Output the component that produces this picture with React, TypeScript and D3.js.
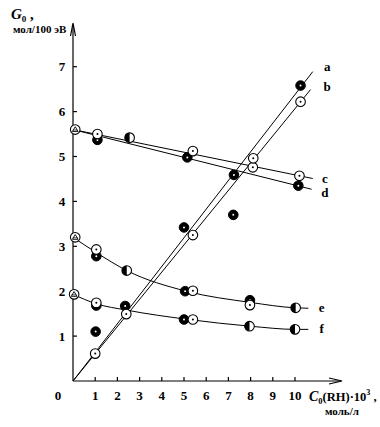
import React from "react";
import * as d3 from "d3";

const xTicks = [1, 2, 3, 4, 5, 6, 7, 8, 9, 10];
const yTicks = [1, 2, 3, 4, 5, 6, 7];

// straight lines a–d (endpoints)
const lineA: [number, number][] = [[0, 0], [10.8, 6.89]];
const lineB: [number, number][] = [[0, 0], [10.7, 6.49]];
const lineC: [number, number][] = [[0, 5.6], [10.8, 4.51]];
const lineD: [number, number][] = [[0, 5.6], [10.75, 4.27]];
// curves e, f
const curveE: [number, number][] = [[0, 3.2], [1.05, 2.86], [2.42, 2.46], [5.1, 2.0], [8, 1.75], [10, 1.63], [10.6, 1.62]];
const curveF: [number, number][] = [[0, 1.93], [1.05, 1.72], [2.4, 1.58], [5.2, 1.37], [8, 1.22], [10, 1.15], [10.6, 1.15]];

const lineLabels = ["a", "b", "c", "d", "e", "f"];
const labelPos: [number, number][] = [[11.45, 6.99], [11.45, 6.54], [11.35, 4.5], [11.35, 4.18], [11.2, 1.63], [11.2, 1.16]];

const trianglePts: [number, number][] = [[0.1, 5.6], [0.1, 3.2], [0.05, 1.93]];
const filledPts: [number, number][] = [
  [1.1, 5.37], [5.15, 4.98], [10.15, 4.35], [7.25, 4.59], [10.25, 6.58], [5.0, 3.42],
  [7.22, 3.7], [1.02, 1.1], [2.35, 1.67], [1.05, 2.78], [5.05, 2.0], [7.97, 1.8],
  [5.0, 1.37], [1.05, 1.68],
];
const openPts: [number, number][] = [
  [1.1, 5.5], [5.4, 5.12], [10.2, 4.57], [8.1, 4.76], [8.12, 4.96], [10.25, 6.22],
  [5.4, 3.25], [2.4, 1.49], [1.0, 0.61], [1.05, 2.93], [5.4, 2.01], [7.97, 1.69],
  [1.05, 1.74], [5.4, 1.37],
];
const halfPts: [number, number][] = [[2.55, 5.42], [2.42, 2.46], [10.03, 1.63], [7.95, 1.22], [10.0, 1.15]];

const W = 380, H = 427;
const x = d3.scaleLinear().domain([0, 10]).range([73, 295]);
const y = d3.scaleLinear().domain([0, 7]).range([381, 66.7]);
const R = 4.8;

const font = "'Liberation Serif', 'DejaVu Serif', serif";

export default function App() {
  const straight = d3.line<[number, number]>().x(d => x(d[0])).y(d => y(d[1]));
  const smooth = d3.line<[number, number]>().x(d => x(d[0])).y(d => y(d[1])).curve(d3.curveMonotoneX);
  const x0 = x(0), y0 = y(0);
  const halfPath = (cx: number, cy: number) =>
    `M${cx},${cy - R} A${R},${R} 0 0 0 ${cx},${cy + R} Z`;
  return (
    <svg width={W} height={H} style={{ position: "absolute", left: 0, top: 0, background: "#fff" }}
      fontFamily={font} fontWeight="bold">
      <rect width={W} height={H} fill="#fff" />
      {/* axes */}
      <line x1={x0} y1={y0} x2={x0} y2={25} stroke="#000" strokeWidth={1.2} />
      <path d={`M${x0 - 2.5},${36} L${x0},${23} L${x0 + 2.5},${36}`} fill="none" stroke="#000" strokeWidth={1.2} />
      <line x1={x0} y1={y0} x2={341} y2={y0} stroke="#000" strokeWidth={1.2} />
      <path d={`M${329},${y0 - 3} L${342},${y0} L${329},${y0 + 3}`} fill="none" stroke="#000" strokeWidth={1.1} />
      {yTicks.map(t => (
        <g key={"y" + t}>
          <line x1={x0} x2={x0 + 4} y1={y(t)} y2={y(t)} stroke="#000" strokeWidth={1.2} />
          <text x={62} y={y(t) + 4.5} fontSize={13} textAnchor="middle">{t}</text>
        </g>
      ))}
      {xTicks.map(t => (
        <g key={"x" + t}>
          <line x1={x(t)} x2={x(t)} y1={y0} y2={y0 - 4} stroke="#000" strokeWidth={1.2} />
          <text x={x(t)} y={400} fontSize={13} textAnchor="middle">{t}</text>
        </g>
      ))}
      <text x={58} y={400} fontSize={13} textAnchor="middle">0</text>

      {/* lines */}
      {[lineA, lineB, lineC, lineD].map((l, i) => (
        <path key={"l" + i} d={straight(l) || ""} fill="none" stroke="#000" strokeWidth={1} />
      ))}
      {[curveE, curveF].map((l, i) => (
        <path key={"c" + i} d={smooth(l) || ""} fill="none" stroke="#000" strokeWidth={1} />
      ))}
      {lineLabels.map((s, i) => (
        <text key={s} x={x(labelPos[i][0])} y={y(labelPos[i][1]) + 4} fontSize={13} textAnchor="middle">{s}</text>
      ))}

      {/* markers */}
      {filledPts.map((p, i) => (
        <g key={"f" + i}>
          <circle cx={x(p[0])} cy={y(p[1])} r={R} fill="#000" stroke="#000" strokeWidth={1} />
          <circle cx={x(p[0])} cy={y(p[1])} r={1} fill="#fff" />
        </g>
      ))}
      {openPts.map((p, i) => (
        <g key={"o" + i}>
          <circle cx={x(p[0])} cy={y(p[1])} r={R} fill="#fff" stroke="#000" strokeWidth={1.1} />
          <circle cx={x(p[0])} cy={y(p[1])} r={1} fill="#000" />
        </g>
      ))}
      {halfPts.map((p, i) => (
        <g key={"h" + i}>
          <circle cx={x(p[0])} cy={y(p[1])} r={R} fill="#fff" stroke="#000" strokeWidth={1.1} />
          <path d={halfPath(x(p[0]), y(p[1]))} fill="#000" />
        </g>
      ))}
      {trianglePts.map((p, i) => {
        const cx = x(p[0]), cy = y(p[1]);
        return (
          <g key={"t" + i}>
            <circle cx={cx} cy={cy} r={R} fill="#fff" stroke="#000" strokeWidth={1.1} />
            <path d={`M${cx},${cy - 2.8} L${cx + 2.8},${cy + 2} L${cx - 2.8},${cy + 2} Z`} fill="none" stroke="#000" strokeWidth={0.9} />
            <line x1={cx - 2.5} x2={cx + 2.5} y1={cy + 0.5} y2={cy + 0.5} stroke="#000" strokeWidth={0.7} />
          </g>
        );
      })}

      {/* axis titles */}
      <text x={11} y={19} fontSize={15}>
        <tspan fontStyle="italic">G</tspan>
        <tspan fontSize={9} dy={3}>0</tspan>
        <tspan dy={-3}> ,</tspan>
      </text>
      <text x={13} y={33} fontSize={11}>мол/100 эВ</text>
      <text x={309} y={401} fontSize={12.5}>
        <tspan fontStyle="italic" fontSize={14}>C</tspan>
        <tspan fontSize={8.5} dy={3}>0</tspan>
        <tspan dy={-3}>(RH)·10</tspan>
        <tspan fontSize={8} dy={-6}>3</tspan>
        <tspan dy={6}> ,</tspan>
      </text>
      <text x={325} y={415} fontSize={11}>моль/л</text>
    </svg>
  );
}
